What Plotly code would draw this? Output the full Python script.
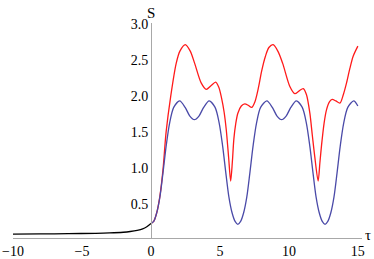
import plotly.graph_objects as go

# black curve (tau < 0)
tau_black = [-10, -8, -6, -4, -3, -2, -1.5, -1, -0.6, -0.3, 0.0]
s_black = [0.085, 0.087, 0.09, 0.095, 0.10, 0.11, 0.12, 0.135, 0.155, 0.185, 0.23]

# blue curve
tau_blue = [0.0, 0.2, 0.42, 0.65, 0.87, 1.1, 1.35, 1.65, 2.08, 2.48, 2.82, 3.15, 3.48, 3.82,
            4.22, 4.65, 4.95, 5.2, 5.43, 5.65, 5.88, 6.1, 6.3, 6.5, 6.72, 6.95, 7.17, 7.4,
            7.65, 7.95, 8.4, 8.8, 9.14, 9.47, 9.8, 10.14, 10.54, 10.97, 11.27, 11.52, 11.75,
            11.97, 12.2, 12.42, 12.62, 12.82, 13.04, 13.27, 13.49, 13.72, 13.97, 14.27, 14.7, 15.0]
s_blue = [0.23, 0.26, 0.38, 0.60, 0.93, 1.30, 1.62, 1.84, 1.93, 1.84, 1.72, 1.67, 1.72, 1.84,
          1.93, 1.84, 1.62, 1.30, 0.93, 0.60, 0.38, 0.26, 0.22, 0.26, 0.38, 0.60, 0.93, 1.30,
          1.62, 1.84, 1.93, 1.84, 1.72, 1.67, 1.72, 1.84, 1.93, 1.84, 1.62, 1.30, 0.93,
          0.60, 0.38, 0.26, 0.22, 0.26, 0.38, 0.60, 0.93, 1.30, 1.62, 1.84, 1.93, 1.86]

# red curve
tau_red = [0.0, 0.2, 0.42, 0.65, 0.87, 1.1, 1.43, 1.83, 2.1, 2.49, 2.85, 3.17, 3.64, 4.01,
           4.35, 4.69, 4.92, 5.12, 5.3, 5.46, 5.63, 5.78, 5.9, 6.01, 6.15, 6.3, 6.55, 6.8,
           7.05, 7.3, 7.54, 7.8, 8.02, 8.3, 8.55, 8.86, 9.2, 9.55, 10.07, 10.43, 10.75, 11.04,
           11.27, 11.52, 11.7, 11.88, 12.12, 12.25, 12.37, 12.55, 12.73, 12.95, 13.14, 13.4,
           13.7, 13.95, 14.18, 14.42, 14.66, 15.0]
s_red = [0.23, 0.26, 0.38, 0.61, 0.97, 1.50, 1.99, 2.45, 2.62, 2.71, 2.62, 2.45, 2.18, 2.09,
         2.14, 2.19, 2.12, 1.97, 1.78, 1.53, 1.15, 0.82, 1.08, 1.40, 1.62, 1.76, 1.86, 1.89,
         1.87, 1.84, 1.92, 2.12, 2.34, 2.55, 2.67, 2.71, 2.62, 2.45, 2.13, 2.03, 2.07, 2.10,
         2.02, 1.76, 1.45, 1.15, 0.82, 1.08, 1.32, 1.62, 1.81, 1.92, 1.95, 1.93,
         1.90, 2.02, 2.18, 2.38, 2.55, 2.69]

x_ticks = [-10, -5, 0, 5, 10, 15]
y_ticks = [0.5, 1.0, 1.5, 2.0, 2.5, 3.0]
y_ticktext = ["0.5", "1.0", "1.5", "2.0", "2.5", "3.0"]

x_range = [-10, 15.3]
y_range = [0.03, 3.01]

serif = "'Liberation Serif', 'Times New Roman', 'DejaVu Serif', serif"

fig = go.Figure()
fig.add_trace(go.Scatter(x=tau_red, y=s_red, mode="lines",
                         line=dict(color="#ff1a1a", width=1.3, shape="spline", smoothing=0.8)))
fig.add_trace(go.Scatter(x=tau_blue, y=s_blue, mode="lines",
                         line=dict(color="#4a4aa8", width=1.3, shape="spline", smoothing=0.8)))
fig.add_trace(go.Scatter(x=tau_black, y=s_black, mode="lines",
                         line=dict(color="#000000", width=1.3, shape="spline", smoothing=0.8)))

fig.update_layout(
    width=374, height=259,
    margin=dict(l=13, r=12, t=23, b=21),
    paper_bgcolor="white", plot_bgcolor="white",
    showlegend=False,
    font=dict(family=serif, color="black"),
    xaxis=dict(range=x_range, tickvals=x_ticks, showgrid=False, zeroline=False,
               showline=True, linecolor="#a8a8a8", linewidth=1, ticks="", automargin=False,
               ticklabeloverflow="allow",
               tickfont=dict(family=serif, size=14, color="black")),
    yaxis=dict(range=y_range, tickvals=y_ticks, ticktext=y_ticktext, showgrid=False,
               zeroline=False, showline=True, linecolor="#a8a8a8", linewidth=1, ticks="",
               automargin=False, ticklabeloverflow="allow",
               anchor="free", position=(0 - x_range[0]) / (x_range[1] - x_range[0]),
               tickfont=dict(family=serif, size=14, color="black")),
    annotations=[
        dict(text="S", x=0, y=1, xref="x", yref="paper", xanchor="center", yanchor="bottom",
             showarrow=False, font=dict(family=serif, size=15, color="black"), yshift=0),
        dict(text="τ", x=1, y=0, xref="paper", yref="paper", xanchor="left", yanchor="middle",
             showarrow=False, font=dict(family=serif, size=15, color="black"), xshift=1, yshift=3),
    ],
)

fig.write_html("out.html", config={"displayModeBar": False, "staticPlot": True},
               post_script="document.body.style.margin='0';document.body.style.overflow='hidden';")
